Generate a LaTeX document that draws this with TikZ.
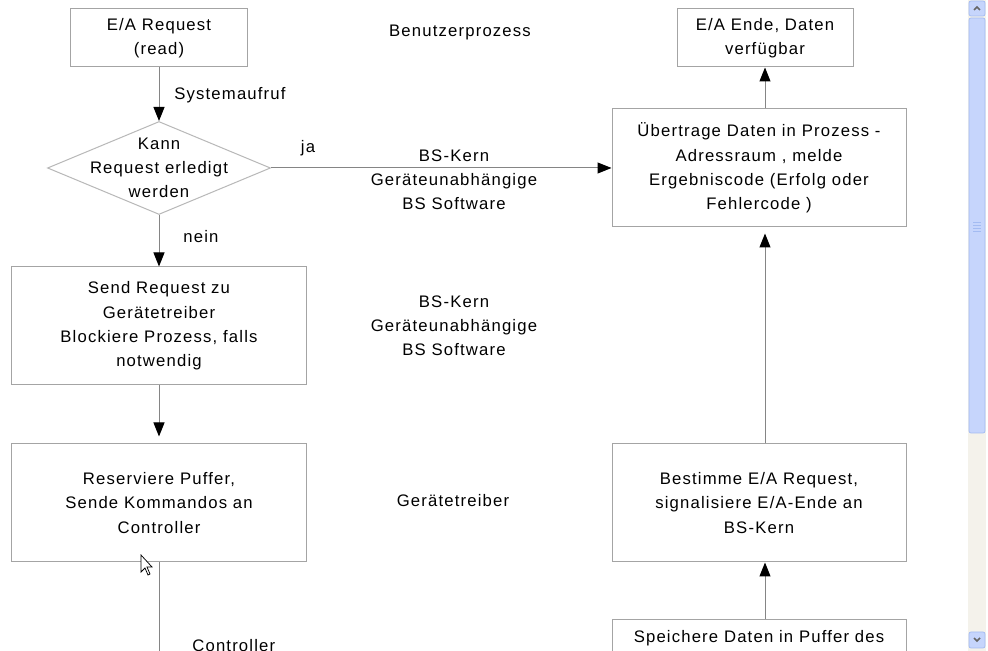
\documentclass[tikz,border=0pt]{standalone}
\usepackage{fontspec}
\setmainfont{Liberation Sans}[LetterSpace=7]
\usepackage{tikz}
\usetikzlibrary{arrows.meta,shapes.geometric}
\usepackage{xcolor}
\definecolor{boxgray}{HTML}{A4A4A4}
\definecolor{diagray}{HTML}{B8B8B8}
\definecolor{linegray}{HTML}{858585}
\definecolor{trackbeige}{HTML}{F4F2EB}
\definecolor{thumbblue}{HTML}{C6D5FC}
\definecolor{thumbedge}{HTML}{A3BBF2}

\begin{document}
\begin{tikzpicture}[x=0.2mm,y=-0.2mm,>={Triangle[length=2.8mm,width=2.2mm,color=black]},
  font=\fontsize{9.5}{13.8}\selectfont,line cap=butt,
  box/.style={draw=boxgray,line width=0.2mm,minimum width=58.8mm,minimum height=23.6mm,align=center,inner sep=0pt},
  smallbox/.style={box,minimum width=35.2mm,minimum height=11.6mm},
  lbl/.style={align=center,inner sep=0pt},
  arr/.style={->,draw=linegray,line width=0.2mm},
  wire/.style={draw=linegray,line width=0.2mm}]
\useasboundingbox (0,0) rectangle (988,651);
\begin{scope}
\clip (0,0) rectangle (988,651);
\fill[white] (0,0) rectangle (988,651);
% left column
\node[smallbox] (req) at (159,38) {E/A Request\\(read)};
\node[draw=diagray,line width=0.2mm,diamond,minimum width=44.6mm,minimum height=18.6mm,inner sep=0pt] (dec) at (159,168) {};
\node[lbl] (dect) at (dec) {Kann\\Request erledigt\\werden};
\node[box] (send) at (159,326) {Send Request zu\\Gerätetreiber\\Blockiere Prozess, falls\\notwendig};
\node[box] (res) at (159,503) {Reserviere Puffer,\\Sende Kommandos an\\Controller};
% right column
\node[smallbox] (ende) at (765,38) {E/A Ende, Daten\\verfügbar};
\node[box] (ueb) at (759,168) {Übertrage Daten in Prozess -\\Adressraum , melde\\Ergebniscode (Erfolg oder\\Fehlercode )};
\node[box] (bes) at (759,503) {Bestimme E/A Request,\\signalisiere E/A-Ende an\\BS-Kern};
\node[box] (spe) at (759,679) {};
\node[lbl,anchor=north] (spet) at (759,630) {Speichere Daten in Puffer des};
% labels
\node[lbl,anchor=west] (sys) at (174,95) {Systemaufruf};
\node[lbl] (ja) at (308,148) {ja};
\node[lbl] (nein) at (201,237) {nein};
\node[lbl] (benutzer) at (460,32) {Benutzerprozess};
\node[lbl] (kern1) at (454,180) {BS-Kern\\Geräteunabhängige\\BS Software};
\node[lbl] (kern2) at (454,326) {BS-Kern\\Geräteunabhängige\\BS Software};
\node[lbl] (treiber) at (453,501) {Gerätetreiber};
\node[lbl,anchor=west] (ctrl) at (192,646) {Controller};
% connectors
\coordinate (ctrlend) at (159,670);
\draw[arr] (req) -- (dec);
\draw[arr] (dec) -- (send);
\draw[arr,shorten >=1.4mm] (send) -- (res);
\draw[wire] (res) -- (ctrlend);
\draw[arr] (dec) -- (ueb);
\draw[arr] (ueb.north -| ende) -- (ende);
\draw[arr,shorten >=1.2mm] (bes.north -| ende) -- (ueb.south -| ende);
\draw[arr] (spe.north -| ende) -- (bes.south -| ende);
% scrollbar
\fill[trackbeige] (968,0) rectangle (986,651);
\draw[thumbedge,fill=thumbblue,rounded corners=0.4mm] (969,1) rectangle (985,16);
\draw[black!60,line width=0.3mm] (974,10) -- (977,7) -- (980,10);
\draw[thumbedge,fill=thumbblue,rounded corners=0.4mm] (969,18) rectangle (985,433);
\foreach \gy in {222,225,228,231}
  \draw[thumbedge] (973,\gy) -- (981,\gy);
\draw[thumbedge,fill=thumbblue,rounded corners=0.4mm] (969,632) rectangle (985,648);
\draw[black!60,line width=0.3mm] (974,638) -- (977,641) -- (980,638);
% mouse pointer
\draw[black,fill=white,line width=0.15mm,line join=miter]
  (141,555) -- (141,572) -- (145,568) -- (148,575) -- (150,574) -- (147,567) -- (152,567) -- cycle;
\end{scope}
\end{tikzpicture}
\end{document}
